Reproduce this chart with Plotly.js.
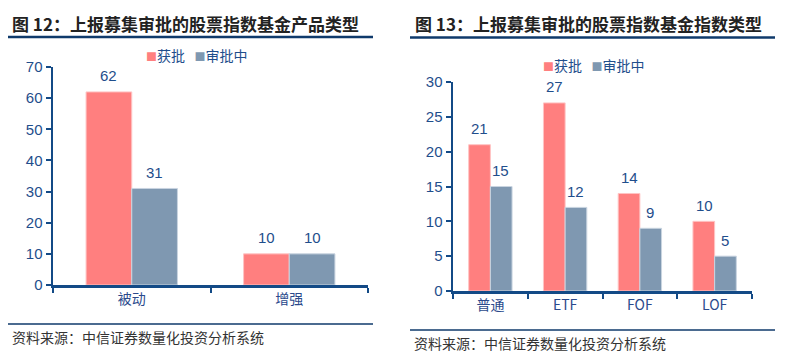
<!DOCTYPE html>
<html><head><meta charset="utf-8">
<script src="https://cdn.plot.ly/plotly-3.0.1.min.js"></script>
<style>html,body{margin:0;padding:0;background:#fff;}#c{width:787px;height:360px;}</style>
</head><body><div id="c"></div>
<script>
// ---- data ----
const seriesNames = ["获批", "审批中"];
const cats1 = ["被动", "增强"];
const approved1 = [62, 10];
const pending1 = [31, 10];
const cats2 = ["普通", "ETF", "FOF", "LOF"];
const approved2 = [21, 27, 14, 10];
const pending2 = [15, 12, 9, 5];
const title1 = "图 12：上报募集审批的股票指数基金产品类型";
const title2 = "图 13：上报募集审批的股票指数基金指数类型";
const source = "资料来源：中信证券数量化投资分析系统";

// ---- style ----
const W = 787, H = 360;
const px = x => x / W, py = y => 1 - y / H;
const RED = "#FF7F7F", BLUE = "#7F98B1";
const AXIS = "#134A86", TICK = "#1F4E8C", TXT = "#222222";
const FONT = "Liberation Sans, Arial, Noto Sans CJK SC, sans-serif";
const CJK = "Noto Sans CJK SC, sans-serif";

function bar(x, y, name, color, xa, ya) {
  return {type: "bar", x: x, y: y, name: name, xaxis: xa, yaxis: ya, showlegend: false,
    marker: {color: color, line: {color: color === RED ? "#FFC4C4" : "#C9D4E0", width: 1}},
    hoverinfo: "skip"};
}
const traces = [
  bar(cats1, approved1, seriesNames[0], RED, "x", "y"),
  bar(cats1, pending1, seriesNames[1], BLUE, "x", "y"),
  bar(cats2, approved2, seriesNames[0], RED, "x2", "y2"),
  bar(cats2, pending2, seriesNames[1], BLUE, "x2", "y2")
];

const ann = [];
function labels(cats, vals, xa, ya, shift) {
  cats.forEach((c, i) => ann.push({x: c, y: vals[i], xref: xa, yref: ya, text: String(vals[i]),
    showarrow: false, xshift: shift, yshift: 16, yanchor: "middle", xanchor: "center",
    font: {family: FONT, size: 15, color: TICK}}));
}
const catW1 = (368 - 53) / cats1.length, gap1 = 0.42;
const catW2 = (752 - 453) / cats2.length, gap2 = 0.44;
const half1 = catW1 * (1 - gap1) / 4, half2 = catW2 * (1 - gap2) / 4;
labels(cats1, approved1, "x", "y", -half1);
labels(cats1, pending1, "x", "y", half1);
labels(cats2, approved2, "x2", "y2", -half2);
labels(cats2, pending2, "x2", "y2", half2);

function txt(t, x, y, size, bold, color) {
  ann.push({text: bold ? "<b>" + t + "</b>" : t, x: px(x), y: py(y), xref: "paper", yref: "paper",
    xanchor: "left", yanchor: "middle", showarrow: false,
    font: {family: CJK, size: size, color: color || TXT}});
}
txt(title1, 10, 24, 17, true);
txt(title2, 413, 24, 17, true);
txt(source, 10, 337, 14, false, "#333");
txt(source, 412, 343, 14, false, "#333");
function legend(x, y) {
  const t = "<span style='color:" + RED + ";font-size:11px'>■</span>" + seriesNames[0] +
    "\u00a0\u00a0\u00a0<span style='color:" + BLUE + ";font-size:11px'>■</span>" + seriesNames[1];
  ann.push({text: t, x: px(x), y: py(y), xref: "paper", yref: "paper", xanchor: "left",
    yanchor: "middle", showarrow: false, font: {family: CJK, size: 14, color: TICK}});
}
legend(144, 55);
legend(541, 65);

const shapes = [
  {type: "line", xref: "paper", yref: "paper", x0: px(8), x1: px(373), y0: py(37), y1: py(37), line: {color: "#0F3A6B", width: 2.5}},
  {type: "line", xref: "paper", yref: "paper", x0: px(410), x1: px(775), y0: py(37.5), y1: py(37.5), line: {color: "#0F3A6B", width: 2.5}},
  {type: "line", xref: "paper", yref: "paper", x0: px(8), x1: px(373), y0: py(324), y1: py(324), line: {color: "#0F3A6B", width: 1.5}},
  {type: "line", xref: "paper", yref: "paper", x0: px(410), x1: px(775), y0: py(330), y1: py(330), line: {color: "#0F3A6B", width: 1.5}}
];

function xax(dom, n) {
  return {domain: dom, type: "category", range: [-0.5, n - 0.5], showline: true, linecolor: AXIS, linewidth: 2.5,
    ticks: "outside", tickson: "boundaries", ticklen: 5, tickwidth: 2, tickcolor: AXIS,
    showgrid: false, zeroline: false, fixedrange: true,
    tickfont: {family: CJK, size: 14, color: "#2B4A8C"}};
}
function yax(dom, max, dt) {
  return {domain: dom, range: [0, max], dtick: dt, showline: true, linecolor: AXIS, linewidth: 2.5,
    ticks: "outside", ticklen: 5, tickwidth: 2, tickcolor: AXIS, showgrid: false, zeroline: false,
    fixedrange: true, tickfont: {family: FONT, size: 15, color: TICK}};
}
const layout = {
  width: W, height: H, margin: {l: 0, r: 0, t: 0, b: 0}, paper_bgcolor: "#fff", plot_bgcolor: "rgba(0,0,0,0)",
  barmode: "group", bargap: gap1, bargroupgap: 0, showlegend: false,
  xaxis: Object.assign(xax([px(53), px(368)], cats1.length), {anchor: "y"}),
  yaxis: Object.assign(yax([py(285), py(67)], 70, 10), {anchor: "x"}),
  xaxis2: Object.assign(xax([px(453), px(752)], cats2.length), {anchor: "y2"}),
  yaxis2: Object.assign(yax([py(291), py(82)], 30, 5), {anchor: "x2"}),
  annotations: ann, shapes: shapes, font: {family: FONT}
};
Plotly.newPlot("c", traces, layout, {staticPlot: true});
</script></body></html>
